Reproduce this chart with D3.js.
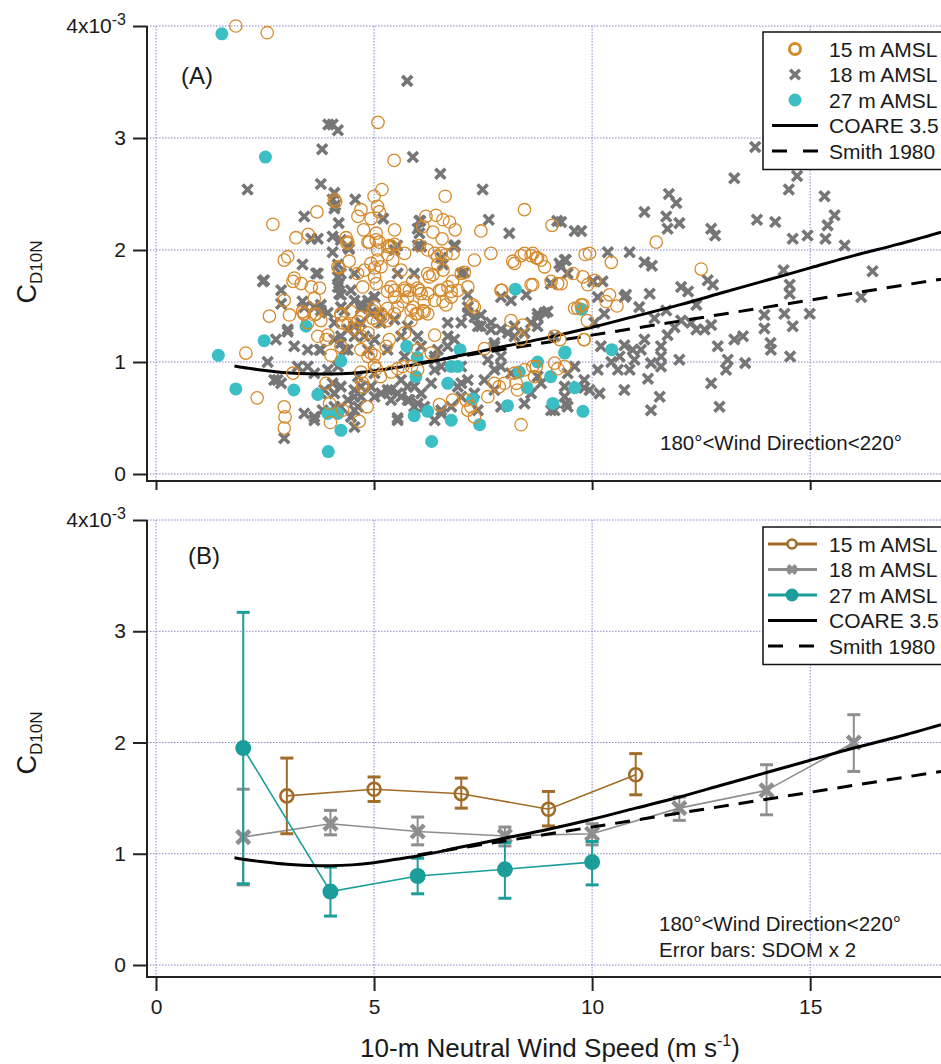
<!DOCTYPE html>
<html>
<head>
<meta charset="utf-8">
<script src="https://cdn.jsdelivr.net/npm/d3@7"></script>
<style>
  body { margin: 0; background: #fff; }
  svg text { font-family: "Liberation Sans", Arial, sans-serif; fill: #1a1a1a; }
</style>
</head>
<body>
<div id="chart"></div>
<script>
// ---------------- data (C_D10N in units of 1e-3, wind speed in m/s) ----------------
const obs15 = [
 [1.83,4.0],[2.55,3.94],[5.09,3.14],[5.46,2.80],[5.18,2.54],[6.63,2.48],[8.45,2.36],[9.08,2.22],[7.45,2.17],
 [2.68,2.23],[3.69,2.34],[4.09,2.45],[4.12,2.43],[5.0,2.48],[5.08,2.39],[4.63,2.30],[4.93,2.28],[4.76,2.18],
 [5.47,2.18],[6.19,2.30],[6.42,2.31],[6.58,2.27],[6.73,2.25],[6.86,2.18],[6.35,2.16],[6.56,2.10],[6.12,2.21],
 [3.21,2.11],[3.49,2.14],[4.36,2.11],[4.38,2.06],[5.05,2.15],[5.12,2.07],[5.35,2.04],[4.70,2.36],[5.12,2.34],
 [4.86,2.07],[5.31,2.03],[2.94,1.91],[3.02,1.94],[3.14,1.72],[3.17,1.75],[3.33,1.70],[3.56,1.67],[3.75,1.66],
 [2.94,1.55],[2.60,1.41],[3.06,1.42],[3.40,1.43],[3.67,1.43],[3.63,1.57],[4.17,1.85],[4.43,1.90],[4.40,2.07],
 [4.62,1.79],[4.78,1.82],[4.93,1.88],[5.08,1.91],[5.01,1.84],[5.16,1.85],[5.31,1.96],[5.43,1.91],[5.62,1.82],
 [5.70,1.97],[5.08,2.0],[4.89,2.07],[5.05,2.09],[5.40,2.03],[5.47,2.05],[4.74,1.67],[5.05,1.70],[5.01,1.76],
 [5.39,1.67],[5.47,1.64],[5.70,1.66],[5.81,1.64],[5.89,1.72],[6.0,1.66],[6.08,1.61],[6.15,1.54],[5.77,1.58],
 [5.66,1.54],[6.04,2.04],[6.27,1.76],[6.35,1.78],[6.23,2.0],[6.39,1.97],[6.46,1.94],[6.54,1.97],[6.65,1.96],
 [6.81,1.97],[6.46,1.87],[6.58,1.82],[7.0,1.79],[7.15,1.67],[7.26,1.51],[6.54,1.64],[6.69,1.67],[6.77,1.58],
 [6.58,1.54],[6.65,1.51],[6.39,1.55],[6.92,1.64],[7.91,1.64],[8.22,1.88],[8.37,1.95],[8.64,1.97],[8.72,1.93],
 [8.83,1.91],[8.91,1.85],[8.60,1.69],[9.06,1.72],[9.21,1.70],[6.23,1.43],[6.12,1.46],[5.47,1.58],[5.89,1.49],
 [5.96,1.43],[4.24,1.43],[4.47,1.45],[4.70,1.40],[4.97,1.46],[5.16,1.43],[5.31,1.48],[5.54,1.49],[5.85,1.46],
 [4.20,1.84],[7.07,1.80],[7.30,1.49],[2.06,1.08],[2.32,0.68],[2.94,0.60],[2.96,0.51],[2.94,0.41],
 [3.14,0.90],[3.39,1.43],[3.78,1.37],[3.94,1.24],[4.01,1.06],[3.90,0.81],[3.98,0.63],[4.28,0.57],
 [4.0,0.46],[4.66,0.47],[4.84,0.60],[4.70,0.91],[4.74,0.81],[4.74,0.78],[4.93,1.08],[5.05,0.94],[5.15,0.87],
 [5.39,0.91],[5.54,0.94],[5.66,0.96],[5.86,0.96],[6.0,0.93],[6.0,1.11],[6.31,1.08],[6.50,0.62],[6.80,0.66],
 [7.11,0.66],[7.22,0.60],[7.30,0.51],[7.15,0.57],[7.61,0.69],[7.99,0.81],[8.22,0.90],[8.37,0.44],[8.45,0.93],
 [8.64,0.96],[8.68,0.87],[9.14,0.99],[9.21,0.94],[9.37,0.96],[8.37,1.20],[8.64,1.69],[8.14,1.37],[8.41,1.33],
 [7.93,1.64],[8.18,1.90],[9.14,1.23],[9.26,1.20],[9.60,1.48],[9.75,1.51],[9.82,1.20],[9.94,1.97],[8.45,1.97],
 [8.60,1.95],[8.75,1.93],[7.68,1.97],[7.30,1.91],[6.80,1.72],[6.77,1.63],[6.50,1.64],[6.39,1.24],[6.23,1.79],
 [7.53,1.12],[7.76,0.81],[7.87,0.78],[8.26,0.81],[8.29,0.75],[8.72,0.96],[3.36,1.45],[3.63,1.42],[3.48,1.35],
 [3.71,1.23],[3.90,1.20],[4.24,1.42],[4.40,1.33],[4.55,1.30],[4.63,1.36],[4.70,1.23],[4.86,1.26],[4.97,1.39],
 [5.08,1.36],[5.20,1.40],[5.31,1.37],[5.47,1.43],[5.01,1.49],[5.31,1.63],[5.70,1.64],[6.04,1.64],[6.23,1.61],
 [6.15,1.45],[6.0,1.43],[5.85,1.37],[5.70,1.26],[5.35,1.20],[5.28,1.14],[5.01,1.06],[4.86,1.05],[5.01,0.97],
 [4.70,1.11],[4.24,1.14],[4.28,1.35],[11.47,2.07],[12.5,1.83],[9.84,1.96],[10.44,1.89],[9.56,1.79],[9.79,1.76],
 [9.90,1.69],[10.06,1.73],[10.40,1.60],[10.32,1.54],[10.57,1.50],[9.79,1.51],[9.67,1.48],[9.89,1.37],
 [9.81,1.20],[9.29,1.70]
];

const obs18 = [
 [5.76,3.51],[3.95,3.12],[4.05,3.12],[4.17,3.07],[3.81,2.90],[5.89,2.83],[6.52,2.68],[2.10,2.54],[3.78,2.59],
 [4.09,2.51],[7.49,2.54],[4.57,2.45],[4.05,2.45],[4.09,2.37],[3.40,2.30],[4.19,2.24],[5.21,2.28],[6.04,2.26],
 [6.04,2.15],[7.63,2.27],[9.20,2.26],[9.60,2.17],[9.75,2.17],[8.10,2.15],[3.56,2.10],[3.71,2.10],[4.05,2.12],
 [6.84,2.04],[5.53,2.04],[4.11,2.40],[13.74,2.92],[13.26,2.64],[14.70,2.66],[14.51,2.54],[15.33,2.48],
 [11.76,2.50],[11.93,2.42],[11.2,2.34],[11.7,2.30],[11.73,2.19],[12.0,2.24],[13.78,2.27],[14.2,2.25],
 [15.56,2.31],[15.4,2.22],[12.73,2.19],[12.82,2.13],[14.6,2.10],[14.94,2.13],[15.35,2.10],[15.79,2.04],
 [10.86,1.98],[11.2,1.89],[11.37,1.86],[14.39,1.82],[16.43,1.81],[14.53,1.69],[14.53,1.61],[16.17,1.58],
 [12.65,1.73],[12.77,1.69],[12.04,1.67],[12.2,1.63],[11.32,1.61],[10.78,1.60],[11.08,1.49],[11.7,1.46],
 [12.39,1.51],[11.43,1.39],[12.04,1.37],[12.73,1.33],[12.58,1.29],[13.95,1.42],[14.41,1.43],[14.99,1.43],
 [13.95,1.30],[14.6,1.32],[13.26,1.20],[13.46,1.23],[12.88,1.14],[14.09,1.17],[14.1,1.11],[13.51,0.99],
 [14.54,1.05],[13.11,1.02],[13.07,0.93],[12.73,0.81],[12.92,0.60],[10.36,1.98],[9.29,2.25],[9.40,1.91],
 [10.74,1.15],[10.2,1.14],[10.44,1.0],[10.63,1.05],[10.93,1.11],[10.97,1.02],[10.86,0.93],[10.59,0.93],
 [10.13,0.93],[10.17,0.72],[10.74,0.75],[11.28,0.85],[11.35,0.57],[11.55,0.69],[12.0,1.02],[11.58,1.14],
 [11.58,1.05],[11.73,1.24],[11.89,1.31],[12.27,1.35],[12.39,1.29],[11.12,1.11],[11.2,1.20],[11.35,0.99],
 [11.58,0.96],[9.40,0.63],[9.82,0.77],[9.37,0.78],[10.05,1.35],[10.28,1.43],[10.74,1.58],[10.13,1.58],
 [10.02,1.72],[10.24,1.72],[4.05,1.98],[4.43,2.01],[6.06,2.26],[6.0,2.19],[6.08,2.03],[3.36,1.87],[3.67,1.79],
 [4.17,1.87],[4.17,1.76],[4.55,1.79],[2.48,1.73],[2.87,1.64],[3.36,1.54],[3.78,1.51],[4.20,1.61],[4.24,1.49],
 [4.20,1.70],[4.47,1.64],[4.70,1.52],[4.86,1.55],[5.01,1.58],[6.86,2.04],[7.07,1.80],[7.15,1.60],[7.45,1.42],
 [6.58,1.87],[7.91,1.58],[8.14,1.55],[8.49,1.60],[8.75,1.43],[8.98,1.45],[9.05,1.70],[9.25,1.88],[2.45,1.72],
 [3.71,1.79],[4.24,1.79],[4.17,1.67],[4.24,1.60],[3.02,1.29],[2.75,1.20],[3.17,1.14],[2.56,1.00],[2.71,0.84],
 [2.87,0.81],[2.94,0.32],[3.40,0.54],[3.63,0.48],[3.86,0.75],[4.09,0.72],[4.24,0.78],[4.40,0.66],[4.55,0.75],
 [4.63,0.60],[4.47,0.51],[4.55,0.42],[4.24,0.60],[4.09,0.60],[3.82,0.57],[3.94,0.93],[3.63,0.90],[3.25,0.96],
 [3.48,1.11],[3.78,1.11],[4.09,1.20],[4.24,1.17],[4.40,1.11],[4.55,1.23],[4.40,1.29],[4.70,1.35],[4.93,1.44],
 [5.01,1.58],[4.55,1.55],[4.70,1.48],[5.16,1.35],[5.01,1.20],[4.86,1.11],[5.01,0.90],[5.16,0.72],[5.31,0.75],
 [5.39,0.66],[5.62,0.69],[5.54,0.48],[5.77,0.66],[5.92,0.60],[6.08,0.72],[5.77,0.78],[6.15,0.60],[6.31,0.81],
 [6.54,0.96],[6.39,1.02],[6.69,1.14],[6.84,1.20],[7.0,1.35],[7.15,1.49],[7.30,1.40],[7.45,1.32],[7.68,1.29],
 [7.76,1.14],[7.91,1.05],[8.07,1.26],[8.22,1.32],[8.45,1.26],[8.60,1.35],[8.75,1.40],[8.91,1.44],[9.06,1.70],
 [9.29,1.85],[9.37,1.91],[9.44,1.79],[8.45,0.63],[8.60,0.72],[9.14,0.57],[9.44,0.60],[9.37,0.69],[9.67,0.78],
 [9.82,0.84],[9.94,0.75],[9.60,0.96],[9.44,0.90],[8.83,0.81],[8.75,0.87],[7.76,0.93],[7.61,1.02],[7.15,0.84],
 [6.92,0.78],[7.0,0.69],[7.30,0.72],[7.53,0.84],[7.76,0.75],[7.91,0.60],[6.77,0.60],[6.54,0.54],[6.39,0.48],
 [4.70,0.69],[4.55,0.69],[5.54,1.79],[5.92,1.79],[6.54,1.93],[7.0,1.79],[6.84,2.03],[5.47,2.0],[6.0,2.04],
 [4.24,2.09],[4.40,2.03],[3.02,1.27],[2.79,0.84],[3.63,0.51],[3.78,0.72],[4.05,0.81],[4.17,0.96],[4.55,0.57],
 [4.70,0.78],[4.63,0.87],[4.32,1.11],[4.24,1.23],[4.09,1.35],[3.94,1.44],[3.63,1.49],[3.75,1.11],[3.48,0.96],
 [4.93,0.78],[5.01,0.69],[5.39,0.75],[5.54,0.72],[5.62,0.84],[5.81,0.66],[6.0,0.63],[5.92,0.78],[5.54,0.50],
 [6.39,0.93],[6.46,1.11],[6.69,1.23],[6.69,1.35],[7.15,1.44],[7.38,1.32],[7.68,1.35],[7.91,1.29],[7.76,1.17],
 [8.22,1.23],[8.75,1.32],[9.14,1.23],[7.0,0.96],[7.0,0.81],[7.38,0.57],[9.06,0.57],[6.54,0.57],[8.14,0.90],
 [7.91,0.96],[2.87,1.52],[3.40,1.49],[3.78,1.46],[4.32,1.46],[4.86,1.49],[5.12,1.44],[5.47,1.38],[5.77,1.32],
 [6.0,1.23],[5.62,1.23],[5.31,1.11],[5.70,1.05],[6.08,1.14],[6.39,1.05],[4.78,1.23],[4.55,1.32]
];

const obs27 = [
 [1.51,3.93],[2.51,2.83],[1.43,1.06],[1.83,0.76],[2.48,1.19],[3.44,1.32],[3.16,0.75],[3.71,0.71],[3.94,0.54],
 [4.17,0.54],[4.24,0.39],[3.95,0.20],[4.24,1.01],[5.75,1.14],[5.99,1.04],[5.96,0.87],[5.92,0.52],[6.23,0.56],
 [6.32,0.29],[6.69,0.81],[6.77,0.96],[6.97,1.11],[6.92,0.96],[6.77,0.48],[7.26,0.67],[7.42,0.44],[8.06,0.61],
 [8.24,1.65],[8.33,0.91],[8.51,0.77],[8.75,1.00],[9.05,0.87],[9.10,0.63],[9.37,1.08],[9.60,0.77],[9.79,0.56],
 [9.76,1.47],[10.45,1.11],[9.38,1.09]
];

// bin averages, error bars = 2 x SDOM
const bin15 = [3, 5, 7, 9, 11];
const mean15 = [1.52, 1.58, 1.54, 1.40, 1.71];
const lo15 = [1.18, 1.47, 1.41, 1.25, 1.53];
const hi15 = [1.86, 1.69, 1.68, 1.56, 1.90];

const bin18 = [2, 4, 6, 8, 10, 12, 14, 16];
const mean18 = [1.15, 1.27, 1.20, 1.16, 1.18, 1.41, 1.57, 2.00];
const lo18 = [0.72, 1.17, 1.08, 1.07, 1.08, 1.30, 1.35, 1.74];
const hi18 = [1.58, 1.39, 1.33, 1.24, 1.27, 1.51, 1.80, 2.25];

const bin27 = [2, 4, 6, 8, 10];
const mean27 = [1.95, 0.66, 0.80, 0.86, 0.925];
const lo27 = [0.73, 0.44, 0.64, 0.60, 0.72];
const hi27 = [3.17, 0.88, 0.96, 1.10, 1.11];

// parameterisations
const coareU  = [1.8, 2, 2.5, 3, 3.5, 4, 4.5, 5, 5.5, 6, 7, 8, 9, 10, 11, 12, 13, 14, 15, 16, 17, 18];
const coareCd = [0.965, 0.95, 0.925, 0.905, 0.895, 0.893, 0.90, 0.92, 0.95, 0.98, 1.06, 1.14, 1.22, 1.31,
                 1.41, 1.51, 1.62, 1.73, 1.84, 1.95, 2.05, 2.16];
const smithU  = [6, 10, 14, 18];
const smithCd = [0.99, 1.24, 1.49, 1.74];

const xTicks = [0, 5, 10, 15];
const yTicks = [0, 1, 2, 3, 4];

// ---------------- colours ----------------
const cA15 = "#d68a2c", cA18 = "#767676", cA27 = "#3bbec4";
const cB15 = "#a26c28", cB18 = "#8e8e8e", cB27 = "#1b9d99";
const gridCol = "#8686c8";

const W = 941, H = 1064;
const svg = d3.select("#chart").append("svg")
   .attr("width", W).attr("height", H)
   .attr("viewBox", `0 0 ${W} ${H}`);

const x = d3.scaleLinear().domain([0, 18]).range([156, 941]);
const axisX = 147;           // left frame line

function panel(cfg) {
   const y = d3.scaleLinear().domain([0, 4]).range([cfg.y0, cfg.y4]);
   const g = svg.append("g");

   // grid
   g.selectAll(".hgrid").data(yTicks).join("line")
      .attr("x1", axisX).attr("x2", W)
      .attr("y1", d => y(d)).attr("y2", d => y(d))
      .attr("stroke", gridCol).attr("stroke-width", 1).attr("stroke-dasharray", "1.5,1.5");
   g.selectAll(".vgrid").data(xTicks).join("line")
      .attr("x1", d => x(d)).attr("x2", d => x(d))
      .attr("y1", cfg.y4).attr("y2", cfg.frameY)
      .attr("stroke", gridCol).attr("stroke-width", 1).attr("stroke-dasharray", "1.5,1.5");

   // y axis
   const ya = g.append("g")
      .attr("transform", `translate(${axisX},0)`)
      .call(d3.axisLeft(y).tickValues(yTicks).tickSize(14).tickPadding(7)
            .tickFormat(d => d === 4 ? "" : d));
   ya.select(".domain").remove();
   ya.selectAll("line").attr("stroke", "#222").attr("stroke-width", 2);
   ya.selectAll("text").style("font-size", "21px").attr("fill", "#1a1a1a");
   const top = ya.selectAll(".tick").filter(d => d === 4).select("text");
   top.append("tspan").text("4x10");
   top.append("tspan").attr("dy", "-8").style("font-size", "16px").text("-3");

   // x axis
   const xa = g.append("g")
      .attr("transform", `translate(0,${cfg.frameY})`)
      .call(d3.axisBottom(x).tickValues(xTicks).tickSize(cfg.xTickLen).tickPadding(8)
            .tickFormat(d => cfg.labels ? d : ""));
   xa.select(".domain").remove();
   xa.selectAll("line").attr("stroke", "#222").attr("stroke-width", 2);
   xa.selectAll("text").style("font-size", "21px").attr("fill", "#1a1a1a");

   // frame (L shape)
   g.append("path")
      .attr("d", `M${axisX},${cfg.y4}V${cfg.frameY}H${W}`)
      .attr("fill", "none").attr("stroke", "#222").attr("stroke-width", 2);

   // y title
   const yt = g.append("text")
      .attr("transform", `translate(36,${cfg.titleY}) rotate(-90)`)
      .attr("text-anchor", "middle").style("font-size", "27px");
   yt.append("tspan").text("C");
   yt.append("tspan").attr("dy", "6").style("font-size", "17px").text("D10N");

   // panel letter
   g.append("text").attr("x", cfg.letterX).attr("y", cfg.letterY)
      .style("font-size", "24px").text(cfg.letter);

   return {g, y};
}

function curves(g, y) {
   const line = d3.line().x(d => x(d[0])).y(d => y(d[1])).curve(d3.curveMonotoneX);
   g.append("path").datum(d3.zip(coareU, coareCd))
      .attr("d", line).attr("fill", "none").attr("stroke", "#000").attr("stroke-width", 3);
   g.append("path").datum(d3.zip(smithU, smithCd))
      .attr("d", line).attr("fill", "none").attr("stroke", "#000").attr("stroke-width", 3)
      .attr("stroke-dasharray", "15,10");
}

const xPath = s => `M${-s},${-s}L${s},${s}M${-s},${s}L${s},${-s}`;

// ================= panel A =================
const A = panel({y0: 474, y4: 26, frameY: 481, xTickLen: 9, labels: false,
                 titleY: 272, letter: "(A)", letterX: 181, letterY: 84});

A.g.append("g").selectAll("path").data(obs18).join("path")
   .attr("transform", d => `translate(${x(d[0])},${A.y(d[1])})`)
   .attr("d", xPath(5)).attr("stroke", cA18).attr("stroke-width", 3.6);

A.g.append("g").selectAll("circle").data(obs27).join("circle")
   .attr("cx", d => x(d[0])).attr("cy", d => A.y(d[1])).attr("r", 6.5)
   .attr("fill", cA27);

curves(A.g, A.y);

A.g.append("g").selectAll("circle").data(obs15).join("circle")
   .attr("cx", d => x(d[0])).attr("cy", d => A.y(d[1])).attr("r", 6.2)
   .attr("fill", "none").attr("stroke", cA15).attr("stroke-width", 1.3);

A.g.append("text").attr("x", 660).attr("y", 450).style("font-size", "20.5px")
   .text("180°<Wind Direction<220°");

// legend
function legend(g, top, rows) {
   g.append("rect").attr("x", 763).attr("y", top).attr("width", 190).attr("height", rows.length * 25.5 + 10)
      .attr("fill", "#fff").attr("stroke", "#111").attr("stroke-width", 1.5);
   rows.forEach((r, i) => {
      const cy = top + 17 + i * 25.5;
      const lg = g.append("g").attr("transform", `translate(0,${cy})`);
      r.draw(lg);
      lg.append("text").attr("x", 829).attr("y", 7.5).style("font-size", "21px").text(r.label);
   });
}

legend(A.g, 32, [
   {label: "15 m AMSL", draw: s => s.append("circle").attr("cx", 795).attr("r", 5.5)
        .attr("fill", "none").attr("stroke", cA15).attr("stroke-width", 3)},
   {label: "18 m AMSL", draw: s => s.append("path").attr("transform", "translate(795,0)")
        .attr("d", xPath(4.8)).attr("stroke", cA18).attr("stroke-width", 3.6)},
   {label: "27 m AMSL", draw: s => s.append("circle").attr("cx", 795).attr("r", 6.5).attr("fill", cA27)},
   {label: "COARE 3.5", draw: s => s.append("line").attr("x1", 772).attr("x2", 818)
        .attr("stroke", "#000").attr("stroke-width", 3)},
   {label: "Smith 1980", draw: s => s.append("line").attr("x1", 772).attr("x2", 818)
        .attr("stroke", "#000").attr("stroke-width", 3).attr("stroke-dasharray", "15,16")}
]);

// ================= panel B =================
const B = panel({y0: 965, y4: 520, frameY: 977, xTickLen: 14, labels: true,
                 titleY: 743, letter: "(B)", letterX: 188, letterY: 564});

function binned(g, y, xs, ms, los, his, col, marker) {
   const pts = xs.map((v, i) => ({u: v, m: ms[i], lo: los[i], hi: his[i]}));
   const line = d3.line().x(d => x(d.u)).y(d => y(d.m));
   const s = g.append("g");
   s.append("path").datum(pts).attr("d", line).attr("fill", "none")
      .attr("stroke", col).attr("stroke-width", 1.6);
   const eb = s.selectAll(".eb").data(pts).join("g");
   eb.append("line").attr("x1", d => x(d.u)).attr("x2", d => x(d.u))
      .attr("y1", d => y(d.lo)).attr("y2", d => y(d.hi)).attr("stroke", col).attr("stroke-width", 2);
   eb.append("line").attr("x1", d => x(d.u) - 6.5).attr("x2", d => x(d.u) + 6.5)
      .attr("y1", d => y(d.lo)).attr("y2", d => y(d.lo)).attr("stroke", col).attr("stroke-width", 3);
   eb.append("line").attr("x1", d => x(d.u) - 6.5).attr("x2", d => x(d.u) + 6.5)
      .attr("y1", d => y(d.hi)).attr("y2", d => y(d.hi)).attr("stroke", col).attr("stroke-width", 3);
   const mk = s.selectAll(".mk").data(pts).join("g")
      .attr("transform", d => `translate(${x(d.u)},${y(d.m)})`);
   marker(mk);
}

const mk15 = m => m.append("circle").attr("r", 6.5).attr("fill", "none")
      .attr("stroke", cB15).attr("stroke-width", 2.6);
const mk18 = m => m.append("path").attr("d", xPath(6.5)).attr("stroke", cB18).attr("stroke-width", 4.5);
const mk27 = m => m.append("circle").attr("r", 8).attr("fill", cB27);

binned(B.g, B.y, bin18, mean18, lo18, hi18, cB18, mk18);
binned(B.g, B.y, bin15, mean15, lo15, hi15, cB15, mk15);
binned(B.g, B.y, bin27, mean27, lo27, hi27, cB27, mk27);
curves(B.g, B.y);

B.g.append("text").attr("x", 659).attr("y", 931).style("font-size", "20.5px")
   .text("180°<Wind Direction<220°");
B.g.append("text").attr("x", 659).attr("y", 957).style("font-size", "20.5px")
   .text("Error bars: SDOM x 2");

function sampleLine(s, col, marker) {
   s.append("line").attr("x1", 768).attr("x2", 817).attr("stroke", col).attr("stroke-width", 3);
   const m = s.append("g").attr("transform", "translate(792,0)");
   marker(m);
}

legend(B.g, 527, [
   {label: "15 m AMSL", draw: s => sampleLine(s, cB15, m => m.append("circle").attr("r", 4.5)
        .attr("fill", "#fff").attr("stroke", cB15).attr("stroke-width", 2.6))},
   {label: "18 m AMSL", draw: s => sampleLine(s, cB18, m => m.append("path").attr("d", xPath(4))
        .attr("stroke", cB18).attr("stroke-width", 4))},
   {label: "27 m AMSL", draw: s => sampleLine(s, cB27, m => m.append("circle").attr("r", 6.5).attr("fill", cB27))},
   {label: "COARE 3.5", draw: s => s.append("line").attr("x1", 768).attr("x2", 817)
        .attr("stroke", "#000").attr("stroke-width", 3)},
   {label: "Smith 1980", draw: s => s.append("line").attr("x1", 768).attr("x2", 817)
        .attr("stroke", "#000").attr("stroke-width", 3).attr("stroke-dasharray", "15,16")}
]);

// x title
const xt = svg.append("text").attr("x", 550).attr("y", 1057)
   .attr("text-anchor", "middle").style("font-size", "26px");
xt.append("tspan").text("10-m Neutral Wind Speed (m s");
xt.append("tspan").attr("dy", "-11").style("font-size", "16px").text("-1");
xt.append("tspan").attr("dy", "11").text(")");
</script>
</body>
</html>
